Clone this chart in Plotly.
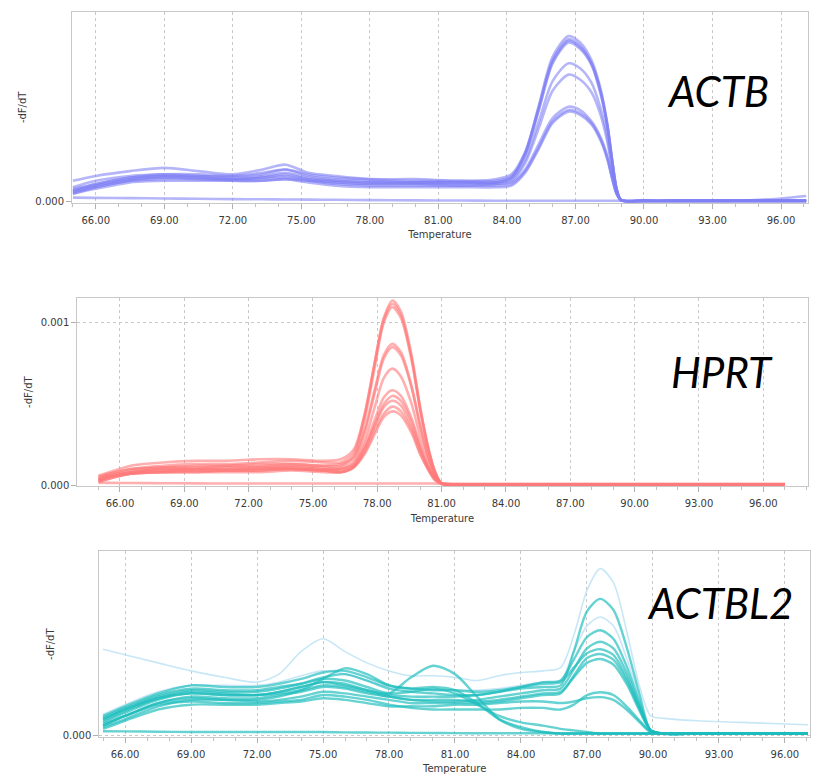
import plotly.graph_objects as go

# ---------------- ACTB panel (values in units of 1e-3 -dF/dT) ----------------
actb_temp = [65, 66, 67.5, 69, 70.5, 72, 73.3, 74.3, 75.3, 76.5, 78, 80, 82, 83.5,
             84.2, 84.8, 85.4, 86.0, 86.7, 87.2, 87.7, 88.1, 88.4, 88.6, 88.8, 89.0,
             90, 92, 94, 96, 97.1]
actb_c1 = [0.13, 0.16, 0.19, 0.21, 0.19, 0.17, 0.20, 0.23, 0.18, 0.16, 0.14, 0.13, 0.13, 0.13,
           0.16, 0.30, 0.60, 0.90, 1.03, 0.99, 0.88, 0.70, 0.48, 0.27, 0.08, 0.01,
           0.005, 0.005, 0.005, 0.005, 0.005]
actb_c2 = [0.07, 0.11, 0.15, 0.17, 0.16, 0.16, 0.18, 0.20, 0.17, 0.15, 0.14, 0.14, 0.13, 0.14,
           0.17, 0.31, 0.59, 0.88, 1.01, 0.97, 0.86, 0.69, 0.47, 0.26, 0.08, 0.01,
           0.005, 0.005, 0.006, 0.02, 0.035]
actb_c3 = [0.06, 0.10, 0.14, 0.16, 0.16, 0.15, 0.16, 0.18, 0.15, 0.13, 0.12, 0.12, 0.12, 0.12,
           0.15, 0.29, 0.57, 0.86, 0.99, 0.95, 0.85, 0.67, 0.46, 0.26, 0.08, 0.01,
           0.005, 0.005, 0.005, 0.005, 0.005]
actb_c4 = [0.08, 0.11, 0.15, 0.16, 0.15, 0.14, 0.15, 0.16, 0.14, 0.13, 0.12, 0.12, 0.12, 0.12,
           0.14, 0.26, 0.50, 0.75, 0.86, 0.83, 0.74, 0.58, 0.40, 0.22, 0.07, 0.01,
           0.005, 0.005, 0.005, 0.005, 0.005]
actb_c5 = [0.05, 0.09, 0.13, 0.15, 0.15, 0.14, 0.14, 0.15, 0.13, 0.12, 0.11, 0.11, 0.11, 0.11,
           0.13, 0.24, 0.46, 0.69, 0.79, 0.76, 0.68, 0.54, 0.37, 0.21, 0.06, 0.01,
           0.005, 0.005, 0.005, 0.005, 0.005]
actb_c6 = [0.07, 0.10, 0.14, 0.15, 0.14, 0.14, 0.15, 0.17, 0.14, 0.12, 0.11, 0.11, 0.10, 0.11,
           0.12, 0.20, 0.36, 0.52, 0.59, 0.57, 0.50, 0.40, 0.28, 0.15, 0.05, 0.01,
           0.005, 0.005, 0.005, 0.005, 0.005]
actb_c7 = [0.06, 0.09, 0.13, 0.14, 0.14, 0.13, 0.13, 0.14, 0.13, 0.11, 0.10, 0.10, 0.10, 0.10,
           0.11, 0.19, 0.34, 0.50, 0.57, 0.55, 0.49, 0.39, 0.27, 0.15, 0.05, 0.01,
           0.005, 0.005, 0.005, 0.005, 0.005]
actb_c8 = [0.05, 0.08, 0.12, 0.13, 0.13, 0.13, 0.13, 0.14, 0.12, 0.10, 0.09, 0.09, 0.09, 0.09,
           0.10, 0.18, 0.33, 0.49, 0.56, 0.54, 0.48, 0.38, 0.26, 0.15, 0.05, 0.01,
           0.005, 0.005, 0.005, 0.005, 0.005]
actb_c9 = [0.09, 0.13, 0.16, 0.17, 0.17, 0.16, 0.17, 0.20, 0.16, 0.14, 0.13, 0.12, 0.12, 0.12,
           0.15, 0.30, 0.58, 0.87, 1.00, 0.96, 0.86, 0.68, 0.47, 0.26, 0.08, 0.01,
           0.005, 0.005, 0.005, 0.005, 0.005]
actb_ntc = [0.025, 0.024, 0.022, 0.020, 0.018, 0.016, 0.015, 0.014, 0.013, 0.012, 0.010, 0.008, 0.007, 0.006,
            0.006, 0.006, 0.006, 0.006, 0.006, 0.006, 0.006, 0.006, 0.006, 0.006, 0.006, 0.006,
            0.005, 0.005, 0.005, 0.005, 0.005]
actb_series = [actb_c1, actb_c2, actb_c3, actb_c4, actb_c5, actb_c6, actb_c7, actb_c8, actb_c9, actb_ntc]

# ---------------- HPRT panel ----------------
hprt_temp = [65, 65.5, 66.5, 68, 69.5, 71, 72.5, 74, 75.5,
             76.3, 76.9, 77.4, 77.9, 78.3, 78.7, 79.1, 79.6, 80.0, 80.4, 80.7, 81.0,
             81.5, 83, 86, 89, 92, 95, 97]
hprt_h1 = [0.05, 0.07, 0.10, 0.12, 0.13, 0.13, 0.14, 0.15, 0.14,
           0.14, 0.20, 0.43, 0.77, 1.03, 1.137, 1.07, 0.80, 0.48, 0.22, 0.08, 0.01,
           0.006, 0.006, 0.006, 0.006, 0.006, 0.006, 0.006]
hprt_h2 = [0.06, 0.08, 0.12, 0.14, 0.15, 0.15, 0.16, 0.16, 0.15,
           0.16, 0.22, 0.43, 0.77, 1.02, 1.116, 1.05, 0.78, 0.47, 0.21, 0.08, 0.01,
           0.006, 0.006, 0.006, 0.006, 0.006, 0.006, 0.006]
hprt_h3 = [0.04, 0.06, 0.09, 0.11, 0.11, 0.12, 0.12, 0.13, 0.12,
           0.12, 0.18, 0.40, 0.74, 1.00, 1.096, 1.03, 0.77, 0.46, 0.21, 0.08, 0.01,
           0.006, 0.006, 0.006, 0.006, 0.006, 0.006, 0.006]
hprt_h4 = [0.05, 0.07, 0.10, 0.11, 0.12, 0.12, 0.13, 0.13, 0.12,
           0.13, 0.17, 0.34, 0.60, 0.80, 0.871, 0.82, 0.61, 0.37, 0.17, 0.06, 0.01,
           0.006, 0.006, 0.006, 0.006, 0.006, 0.006, 0.006]
hprt_h5 = [0.03, 0.05, 0.08, 0.10, 0.10, 0.10, 0.11, 0.11, 0.10,
           0.11, 0.15, 0.32, 0.58, 0.78, 0.851, 0.80, 0.60, 0.36, 0.16, 0.06, 0.01,
           0.006, 0.006, 0.006, 0.006, 0.006, 0.006, 0.006]
hprt_h6 = [0.03, 0.05, 0.07, 0.09, 0.09, 0.09, 0.10, 0.10, 0.09,
           0.10, 0.13, 0.27, 0.49, 0.66, 0.718, 0.67, 0.50, 0.30, 0.14, 0.05, 0.01,
           0.006, 0.006, 0.006, 0.006, 0.006, 0.006, 0.006]
hprt_h7 = [0.04, 0.06, 0.08, 0.10, 0.10, 0.11, 0.11, 0.12, 0.11,
           0.10, 0.13, 0.24, 0.41, 0.54, 0.585, 0.55, 0.41, 0.25, 0.11, 0.04, 0.01,
           0.006, 0.006, 0.006, 0.006, 0.006, 0.006, 0.006]
hprt_h8 = [0.02, 0.04, 0.07, 0.08, 0.08, 0.09, 0.09, 0.10, 0.09,
           0.08, 0.11, 0.22, 0.38, 0.50, 0.55, 0.52, 0.39, 0.23, 0.10, 0.04, 0.01,
           0.006, 0.006, 0.006, 0.006, 0.006, 0.006, 0.006]
hprt_h9 = [0.03, 0.05, 0.08, 0.09, 0.10, 0.10, 0.10, 0.11, 0.10,
           0.09, 0.12, 0.22, 0.37, 0.48, 0.52, 0.49, 0.36, 0.22, 0.10, 0.04, 0.01,
           0.006, 0.006, 0.006, 0.006, 0.006, 0.006, 0.006]
hprt_h10 = [0.02, 0.04, 0.07, 0.08, 0.09, 0.09, 0.09, 0.10, 0.09,
            0.08, 0.11, 0.20, 0.34, 0.44, 0.484, 0.455, 0.34, 0.20, 0.09, 0.03, 0.01,
            0.006, 0.006, 0.006, 0.006, 0.006, 0.006, 0.006]
hprt_h11 = [0.03, 0.05, 0.07, 0.08, 0.08, 0.08, 0.08, 0.09, 0.08,
            0.08, 0.11, 0.19, 0.32, 0.42, 0.455, 0.43, 0.32, 0.19, 0.09, 0.03, 0.01,
            0.006, 0.006, 0.006, 0.006, 0.006, 0.006, 0.006]
hprt_ntc = [0.015, 0.014, 0.013, 0.012, 0.011, 0.010, 0.010, 0.010, 0.010,
            0.010, 0.010, 0.010, 0.010, 0.010, 0.010, 0.010, 0.010, 0.010, 0.010, 0.010, 0.009,
            0.008, 0.008, 0.008, 0.008, 0.008, 0.008, 0.008]
hprt_series = [hprt_h1, hprt_h2, hprt_h3, hprt_h4, hprt_h5, hprt_h6, hprt_h7,
               hprt_h8, hprt_h9, hprt_h10, hprt_h11, hprt_ntc]

# ---------------- ACTBL2 panel ----------------
actbl2_temp = [65, 66, 67.5, 69, 70.5, 72, 73, 74, 75, 76, 77, 78, 79, 80, 81, 82, 83, 84, 85,
               85.8, 86.4, 87, 87.6, 88.2, 88.8, 89.4, 89.9,
               90.5, 92, 94, 96, 97.05]
actbl2_f1 = [0.535, 0.50, 0.45, 0.40, 0.36, 0.33, 0.38, 0.52, 0.60, 0.52, 0.45, 0.40, 0.37, 0.37, 0.36, 0.34, 0.37, 0.39, 0.40,
             0.42, 0.62, 0.90, 1.036, 0.95, 0.65, 0.30, 0.12,
             0.105, 0.09, 0.08, 0.07, 0.065]
actbl2_f2 = [0.13, 0.19, 0.27, 0.31, 0.31, 0.31, 0.33, 0.37, 0.40, 0.38, 0.34, 0.30, 0.29, 0.28, 0.28, 0.28, 0.29, 0.31, 0.33,
             0.34, 0.52, 0.68, 0.735, 0.68, 0.48, 0.22, 0.03,
             0.01, 0.01, 0.01, 0.01, 0.01]
actbl2_t1 = [0.08, 0.14, 0.22, 0.26, 0.25, 0.25, 0.27, 0.30, 0.33, 0.31, 0.28, 0.25, 0.24, 0.24, 0.24, 0.25, 0.27, 0.29, 0.30,
             0.31, 0.52, 0.77, 0.848, 0.78, 0.55, 0.25, 0.03,
             0.01, 0.01, 0.01, 0.01, 0.01]
actbl2_t2 = [0.10, 0.16, 0.24, 0.28, 0.27, 0.27, 0.29, 0.32, 0.36, 0.38, 0.34, 0.29, 0.27, 0.26, 0.25, 0.25, 0.27, 0.30, 0.33,
             0.34, 0.47, 0.61, 0.653, 0.60, 0.43, 0.20, 0.03,
             0.01, 0.01, 0.01, 0.01, 0.01]
actbl2_t3 = [0.06, 0.12, 0.20, 0.24, 0.23, 0.23, 0.25, 0.27, 0.30, 0.29, 0.26, 0.24, 0.22, 0.21, 0.21, 0.22, 0.24, 0.26, 0.28,
             0.29, 0.41, 0.54, 0.581, 0.54, 0.39, 0.18, 0.03,
             0.01, 0.01, 0.01, 0.01, 0.01]
actbl2_t4 = [0.12, 0.18, 0.26, 0.31, 0.30, 0.30, 0.32, 0.35, 0.39, 0.40, 0.36, 0.31, 0.29, 0.28, 0.28, 0.27, 0.28, 0.30, 0.32,
             0.33, 0.42, 0.51, 0.535, 0.50, 0.36, 0.17, 0.03,
             0.01, 0.01, 0.01, 0.01, 0.01]
actbl2_t5 = [0.05, 0.10, 0.18, 0.22, 0.22, 0.21, 0.22, 0.24, 0.27, 0.26, 0.24, 0.22, 0.20, 0.20, 0.20, 0.20, 0.21, 0.23, 0.25,
             0.26, 0.37, 0.48, 0.505, 0.47, 0.34, 0.16, 0.03,
             0.01, 0.01, 0.01, 0.01, 0.01]
actbl2_t6 = [0.09, 0.15, 0.23, 0.27, 0.26, 0.25, 0.26, 0.28, 0.31, 0.30, 0.27, 0.24, 0.22, 0.22, 0.22, 0.21, 0.22, 0.24, 0.26,
             0.27, 0.36, 0.45, 0.474, 0.44, 0.32, 0.15, 0.03,
             0.01, 0.01, 0.01, 0.01, 0.01]
actbl2_t7 = [0.07, 0.12, 0.19, 0.21, 0.20, 0.20, 0.21, 0.22, 0.25, 0.24, 0.22, 0.19, 0.17, 0.16, 0.16, 0.16, 0.16, 0.17, 0.17,
             0.16, 0.19, 0.25, 0.267, 0.25, 0.18, 0.09, 0.02,
             0.01, 0.01, 0.01, 0.01, 0.01]
actbl2_t8 = [0.04, 0.09, 0.16, 0.19, 0.19, 0.19, 0.20, 0.21, 0.23, 0.22, 0.20, 0.18, 0.18, 0.18, 0.19, 0.19, 0.20, 0.21, 0.21,
             0.20, 0.21, 0.23, 0.237, 0.22, 0.16, 0.08, 0.02,
             0.01, 0.01, 0.01, 0.01, 0.01]
actbl2_b1 = [0.10, 0.16, 0.23, 0.26, 0.25, 0.25, 0.27, 0.30, 0.33, 0.32, 0.28, 0.26, 0.36, 0.432, 0.38, 0.24, 0.10, 0.04, 0.02,
             0.01, 0.01, 0.01, 0.01, 0.01, 0.01, 0.01, 0.01,
             0.01, 0.01, 0.01, 0.01, 0.01]
actbl2_b2 = [0.06, 0.12, 0.20, 0.23, 0.22, 0.22, 0.24, 0.28, 0.35, 0.416, 0.38, 0.31, 0.29, 0.30, 0.28, 0.20, 0.10, 0.05, 0.02,
             0.01, 0.01, 0.01, 0.01, 0.01, 0.01, 0.01, 0.01,
             0.01, 0.01, 0.01, 0.01, 0.01]
actbl2_b3 = [0.11, 0.17, 0.25, 0.29, 0.28, 0.28, 0.30, 0.32, 0.35, 0.34, 0.30, 0.26, 0.27, 0.29, 0.26, 0.19, 0.12, 0.08, 0.06,
             0.04, 0.03, 0.02, 0.01, 0.01, 0.01, 0.01, 0.01,
             0.01, 0.01, 0.01, 0.01, 0.01]
actbl2_ntc = [0.025, 0.024, 0.022, 0.020, 0.020, 0.020, 0.020, 0.020, 0.020, 0.018, 0.017, 0.016, 0.015, 0.014, 0.013, 0.012, 0.012, 0.012, 0.012,
              0.012, 0.012, 0.012, 0.012, 0.012, 0.012, 0.012, 0.012,
              0.012, 0.012, 0.012, 0.012, 0.012]
actbl2_faint = [actbl2_f1, actbl2_f2]
actbl2_series = [actbl2_t1, actbl2_t2, actbl2_t3, actbl2_t4, actbl2_t5, actbl2_t6, actbl2_t7,
                 actbl2_t8, actbl2_b1, actbl2_b2, actbl2_b3, actbl2_ntc]

x_ticks = [66, 69, 72, 75, 78, 81, 84, 87, 90, 93, 96]
x_tick_labels = ["66.00", "69.00", "72.00", "75.00", "78.00", "81.00", "84.00", "87.00", "90.00", "93.00", "96.00"]
gene_names = ["ACTB", "HPRT", "ACTBL2"]

SCALE = 1e-3
W, H = 820, 778

fig = go.Figure()


def add_lines(temps, series, axis_id, color, width):
    for s in series:
        fig.add_trace(go.Scatter(
            x=temps, y=[v * SCALE for v in s], mode="lines",
            line=dict(color=color, width=width, shape="spline", smoothing=0.8),
            xaxis="x" + axis_id, yaxis="y" + axis_id,
            showlegend=False, hoverinfo="skip"))


add_lines(actb_temp, actb_series, "", "rgba(128,128,245,0.58)", 2.6)
add_lines(hprt_temp, hprt_series, "2", "rgba(255,122,122,0.6)", 2.6)
add_lines(actbl2_temp, actbl2_faint, "3", "rgba(190,227,245,0.85)", 1.6)
add_lines(actbl2_temp, actbl2_series, "3", "rgba(30,188,188,0.68)", 2.4)


def px_dom_x(a, b):
    return [a / W, b / W]


def px_dom_y(top, bottom):
    return [1 - bottom / H, 1 - top / H]


panels = [
    dict(xd=(72, 808), yd=(12, 204), xr=(64.96, 97.18), yr=(-0.0062, 1.1797), yt=[0]),
    dict(xd=(77.3, 807.7), yd=(300, 489.3), xr=(64.01, 98.07), yr=(-0.006, 1.153), yt=[0, 1]),
    dict(xd=(99.3, 810), yd=(555, 741.7), xr=(64.83, 97.14), yr=(-0.0105, 1.1427), yt=[0]),
]

axis_font = dict(family="DejaVu Sans", size=10, color="#3a3a3a")
layout = dict(
    width=W, height=H, margin=dict(l=0, r=0, t=0, b=0),
    paper_bgcolor="white", plot_bgcolor="white", showlegend=False,
)
for i, p in enumerate(panels):
    sfx = "" if i == 0 else str(i + 1)
    layout["xaxis" + sfx] = dict(
        domain=px_dom_x(*p["xd"]), range=list(p["xr"]), anchor="y" + sfx,
        tickmode="array", tickvals=x_ticks, ticktext=x_tick_labels,
        ticks="outside", ticklen=5, tickcolor="#b0b0b0", ticklabelstandoff=3,
        minor=dict(dtick=1, tick0=66, ticks="outside", ticklen=3, tickcolor="#c0c0c0"),
        showgrid=True, gridcolor="#c8c8c8", griddash="dot", gridwidth=1,
        showline=True, linecolor="#c8c8c8", linewidth=1, mirror=True,
        zeroline=False, tickfont=axis_font,
        title=dict(text="Temperature", font=axis_font, standoff=6),
    )
    layout["yaxis" + sfx] = dict(
        domain=px_dom_y(*p["yd"]), range=[v * SCALE for v in p["yr"]], anchor="x" + sfx,
        tickmode="array", tickvals=[v * SCALE for v in p["yt"]], tickformat=".3f",
        ticks="outside", ticklen=5, tickcolor="#b0b0b0",
        showgrid=True, gridcolor="#c8c8c8", griddash="dot", gridwidth=1,
        showline=True, linecolor="#c8c8c8", linewidth=1, mirror=True,
        zeroline=False, tickfont=axis_font,
        title=dict(text="-dF/dT", font=axis_font, standoff=6),
    )
fig.update_layout(**layout)

title_pos = [(718, 92), (722, 374), (720, 607)]
for name, (cx, cy) in zip(gene_names, title_pos):
    fig.add_annotation(
        x=cx / W, y=1 - cy / H, xref="paper", yref="paper", showarrow=False,
        text=name, xanchor="center", yanchor="middle",
        font=dict(family="Lato", size=42, color="black", style="italic"))

fig.write_html("out.html")
